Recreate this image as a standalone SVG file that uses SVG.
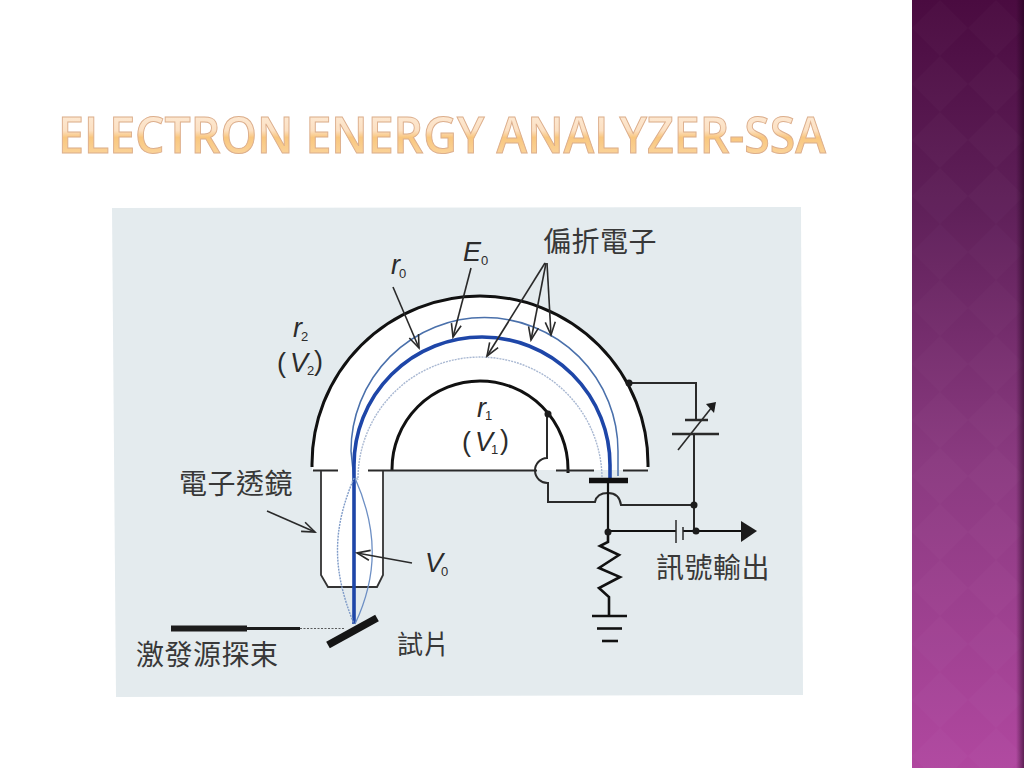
<svg xmlns="http://www.w3.org/2000/svg" width="1024" height="768" viewBox="0 0 1024 768">
<style>
.w{fill:none;stroke:#2a2a2a;stroke-width:2}
.k{fill:none;stroke:#111;stroke-width:3}
.a{fill:none;stroke:#2a2a2a;stroke-width:1.6}
.d{fill:#1c1c1c}
.cjk{font-family:"Noto Sans CJK TC","Noto Sans CJK SC",sans-serif;font-size:28px;fill:#383838;letter-spacing:.5px}
.m{font-family:"Liberation Sans",Arial,sans-serif;font-style:italic;font-size:27px;fill:#2c2c2c}
.s{font-family:"Liberation Sans",Arial,sans-serif;font-size:13px;fill:#2c2c2c}
.p{font-family:"Liberation Sans",Arial,sans-serif;font-size:27px;fill:#2c2c2c}
</style>
<defs>
<linearGradient id="panel" x1="0" y1="0" x2="0" y2="1">
<stop offset="0" stop-color="#4a0b40"/><stop offset=".27" stop-color="#5f2059"/><stop offset=".6" stop-color="#8a3a80"/><stop offset="1" stop-color="#b0479f"/>
</linearGradient>
<linearGradient id="edge" x1="0" y1="0" x2="1" y2="0">
<stop offset="0" stop-color="#1c0018" stop-opacity="0"/><stop offset="1" stop-color="#1c0018" stop-opacity=".55"/>
</linearGradient>
<linearGradient id="title" x1="0" y1="0" x2="0" y2="1">
<stop offset="0" stop-color="#fdf0e2"/><stop offset=".45" stop-color="#fce0c2"/><stop offset=".55" stop-color="#f9c77f"/><stop offset="1" stop-color="#fbdcae"/>
</linearGradient>
<pattern id="dia" width="56" height="56" patternUnits="userSpaceOnUse" x="912">
<path d="M28,0 L56,28 L28,56 L0,28Z" fill="#fff" fill-opacity=".014"/>
</pattern>
<marker id="open" markerWidth="16" markerHeight="14" refX="14" refY="6" orient="auto" markerUnits="userSpaceOnUse">
<path d="M1,1 L14,6 L1,11" fill="none" stroke="#2a2a2a" stroke-width="1.6"/>
</marker>
</defs>
<rect width="1024" height="768" fill="#fff"/>
<g id="panel-side">
<rect x="912" y="0" width="112" height="768" fill="url(#panel)"/>
<rect x="912" y="0" width="112" height="768" fill="url(#dia)"/>
<rect x="1016" y="0" width="8" height="768" fill="url(#edge)"/>
</g>
<text id="title-text" x="58" y="153" textLength="768" lengthAdjust="spacingAndGlyphs" font-family="'Open Sans','Noto Sans',sans-serif" font-size="50" font-weight="600" fill="url(#title)" stroke="#dcae8c" stroke-width="1">ELECTRON ENERGY ANALYZER-SSA</text>
<polygon id="figure-bg" points="112,208 801,207 803,695 116,697" fill="#e4ebee"/>
<g id="analyzer">
<path d="M312,470 L312,464 A168,168 0 0 1 648,464 L648,470Z" fill="#fff"/>
<path d="M321,470 L383,470 L383,575 L377,587 L328,587 L321,575Z" fill="#fff"/>
<path d="M312,467 L312,464 A168,168 0 0 1 648,464 L648,467" class="k"/>
<path d="M392,470 L392,469 A88,88 0 0 1 568,469 L568,473" class="k"/>
<path d="M313,470.5H338M368,470.5H537M556,470.5H594M623,470.5H648" class="w"/>
<path d="M321,471V575L328,587H377L383,575V471" fill="none" stroke="#333" stroke-width="1.8"/>
</g>
<g id="beams" fill="none">
<path d="M354,480 L351,451 A133.5,133.5 0 0 1 618,451 L618,476" stroke="#4a70ab" stroke-width="1.5"/>
<path d="M354,480 C356,476 358,480 358,479 A122,122 0 0 1 602,479" stroke="#a9b8d2" stroke-width="1.4" stroke-dasharray="2 1"/>
<path d="M354,624 V465 A128,128 0 0 1 610,465 V478" stroke="#1e46a8" stroke-width="3.6"/>
<path d="M354,478 C332,530 332,570 354,624" stroke="#7f9bc8" stroke-width="1.4" stroke-dasharray="2 1"/>
<path d="M355,478 C378,530 378,575 355,624" stroke="#6d8fc4" stroke-width="1.3"/>
</g>
<g id="sample">
<path d="M328,645 L377,618" stroke="#151515" stroke-width="7.5"/>
</g>
<g id="probe-beam" fill="none" stroke="#1c1c1c">
<path d="M171,628.5H247" stroke-width="6"/>
<path d="M247,628.5H300" stroke-width="3"/>
<path d="M300,628.5H345" stroke-width="1.2" stroke-dasharray="2 1.5" stroke-opacity=".7"/>
</g>
<g id="connectors">
<path d="M547,414 V458 A12.5,12.5 0 0 0 548,483 V502 H595 C596,497 600,493 608,493 C616,493 620,498 621,505 H694" class="w"/>
<path d="M629,383 H696 V420M694,434 V531" class="w"/>
<path d="M608,481 V531 M608,531 H676 M683,531 H745" class="k" style="stroke-width:2.2"/>
<path d="M676,520V543" class="w" style="stroke-width:1.5"/>
<path d="M683,527V540" class="w" style="stroke-width:1.5"/>
<path d="M589,480.500H628" stroke="#111" stroke-width="5.500"/>
<path d="M608,531V542 L600,546 L619,555 L599,568 L620,577 L599,588 L609,597 V616" class="k" style="stroke-width:2.600"/>
<path d="M592,616H627" class="k" style="stroke-width:2.600"/>
<path d="M597,628.500H622" class="k" style="stroke-width:2.600"/>
<path d="M602,641H618" class="k" style="stroke-width:2.600"/>
<path d="M685,420H708M672,434H719" class="w" style="stroke-width:2.400"/>
<path d="M678,450 L712,407" class="w" style="stroke-width:1.600"/>
<polygon points="716,402 706,404 714,413" class="d"/>
<polygon points="741,521 757,531 741,542" class="d"/>
<circle cx="629" cy="383" r="3.500" class="d"/>
<circle cx="548" cy="414" r="3.500" class="d"/>
<circle cx="694" cy="505" r="3.500" class="d"/>
<circle cx="696" cy="531" r="3.500" class="d"/>
<circle cx="608" cy="532" r="3.500" class="d"/>
<path d="M393,287 L419,348" class="a" marker-end="url(#open)"/>
<path d="M471,268 L453,337" class="a" marker-end="url(#open)"/>
<path d="M545,263 L487,356" class="a" marker-end="url(#open)"/>
<path d="M546,263 L531,340" class="a" marker-end="url(#open)"/>
<path d="M547,263 L551,335" class="a" marker-end="url(#open)"/>
<path d="M267,511 L315,532" class="a" marker-end="url(#open)"/>
<path d="M412,563 L357,553" class="a" marker-end="url(#open)"/>
</g>
<g id="labels">
<g id="label-deflected"><text x="543" y="252" class="cjk">偏折電子</text></g>
<g id="label-lens"><text x="179" y="494" class="cjk">電子透鏡</text></g>
<g id="label-probe"><text x="136" y="665" class="cjk">激發源探束</text></g>
<g id="label-output"><text x="656" y="578" class="cjk">訊號輸出</text></g>
<g id="label-sample"><text x="397" y="654" class="cjk" style="font-size:26px">試片</text></g>
<g id="label-r0"><text x="391" y="274" class="m">r</text><text x="399" y="278" class="s">0</text></g>
<g id="label-E0"><text x="463" y="261" class="m">E</text><text x="481" y="265" class="s">0</text></g>
<g id="label-r2"><text x="293" y="337" class="m">r</text><text x="301" y="341" class="s">2</text></g>
<g id="label-V2"><text x="277" y="372" class="p">(</text><text x="290" y="372" class="m">V</text><text x="307" y="375" class="s">2</text><text x="314" y="370" class="p">)</text></g>
<g id="label-r1"><text x="477" y="417" class="m">r</text><text x="485" y="420" class="s">1</text></g>
<g id="label-V1"><text x="462" y="451" class="p">(</text><text x="475" y="451" class="m">V</text><text x="491" y="454" class="s">1</text><text x="500" y="449" class="p">)</text></g>
<g id="label-V0"><text x="425" y="572" class="m">V</text><text x="441" y="576" class="s">0</text></g>
</g>
</svg>
